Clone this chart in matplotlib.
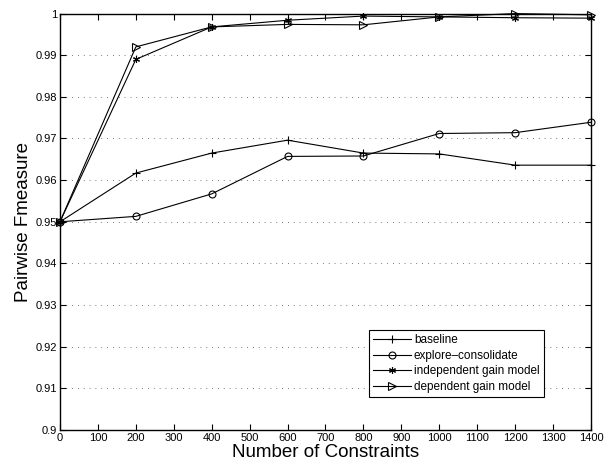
import matplotlib
matplotlib.use("Agg")
import matplotlib.pyplot as plt

plt.rcParams["font.family"] = ["Liberation Sans", "DejaVu Sans"]

constraints = [0, 200, 400, 600, 800, 1000, 1200, 1400]
baseline = [0.9500, 0.9617, 0.9665, 0.9696, 0.9665, 0.9663, 0.9636, 0.9636]
explore = [0.9500, 0.9513, 0.9567, 0.9657, 0.9658, 0.9712, 0.9714, 0.9739]
independent = [0.9500, 0.9890, 0.9968, 0.9984, 0.9994, 0.9992, 0.9990, 0.9989]
dependent = [0.9500, 0.9920, 0.9968, 0.9974, 0.9973, 0.9992, 1.0000, 0.9997]

x_ticks = list(range(0, 1401, 100))
y_ticks = [0.90, 0.91, 0.92, 0.93, 0.94, 0.95, 0.96, 0.97, 0.98, 0.99, 1.0]
y_labels = ["0.9", "0.91", "0.92", "0.93", "0.94", "0.95", "0.96", "0.97",
            "0.98", "0.99", "1"]

fig = plt.figure(figsize=(6.04, 4.68), dpi=100)
ax = fig.add_axes([0.0993, 0.0812, 0.8792, 0.8898])

# matlab-ish black lines, open markers, not clipped at the box edge
kw = dict(color="black", lw=0.8, mfc="none", mec="black", mew=0.8, clip_on=False)
ax.plot(constraints, baseline, marker="+", ms=6, label="baseline", **kw)
ax.plot(constraints, explore, marker="o", ms=5, label="explore\u2013consolidate", **kw)
ax.plot(constraints, independent, marker=(6, 2, 0), ms=5, label="independent gain model", **kw)
ax.plot(constraints, dependent, marker=">", ms=5.5, label="dependent gain model", **kw)

ax.set_xlim(0, 1400)
ax.set_ylim(0.9, 1.0)
ax.set_xticks(x_ticks)
ax.set_xticklabels([str(t) for t in x_ticks], fontsize=8)
ax.set_yticks(y_ticks)
ax.set_yticklabels(y_labels, fontsize=8)
ax.tick_params(direction="in", top=True, right=True, length=4, width=0.8, pad=2)
ax.yaxis.grid(True, ls=(0, (1, 6)), color="black", lw=0.6, alpha=0.7)
for s in ax.spines.values():
    s.set_linewidth(1.0)

ax.set_xlabel("Number of Constraints", fontsize=13.5, labelpad=1)
ax.set_ylabel("Pairwise Fmeasure", fontsize=13.5, labelpad=3)

leg = ax.legend(loc="lower left", bbox_to_anchor=(0.582, 0.079), fontsize=8.5,
                fancybox=False, edgecolor="black", framealpha=1,
                handlelength=3.2, borderpad=0.35, labelspacing=0.3,
                handletextpad=0.25, borderaxespad=0)
leg.get_frame().set_linewidth(0.8)

fig.savefig("out.png", dpi=100)
